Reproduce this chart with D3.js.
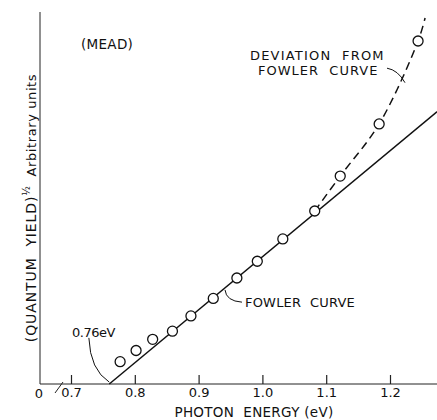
<!DOCTYPE html>
<html>
<head>
<meta charset="utf-8">
<script src="https://cdn.jsdelivr.net/npm/d3@7"></script>
<style>
  html, body { margin: 0; padding: 0; background: #fff; }
  svg text { font-family: "DejaVu Sans", sans-serif; fill: #111; white-space: pre; }
</style>
</head>
<body>
<svg id="chart" width="437" height="420"></svg>
<script>
// Photon energy (eV) of the measured points
const energy = [0.777, 0.802, 0.828, 0.859, 0.888, 0.923, 0.960, 0.992, 1.032, 1.082, 1.122, 1.183, 1.244];
// (quantum yield)^1/2 in arbitrary units
const sqrtYield = [0.60, 0.90, 1.20, 1.42, 1.83, 2.30, 2.85, 3.30, 3.90, 4.65, 5.59, 6.99, 9.22];

// Fowler straight line, threshold at 0.76 eV
const fowlerEnergy = [0.76, 1.274];
const fowlerYield = [0, 7.32];

// Dashed curve departing from the Fowler line at high energy
const deviationEnergy = [1.082, 1.122, 1.183, 1.244, 1.255];
const deviationYield = [4.65, 5.59, 6.99, 9.22, 9.84];

const xTickValues = [0.7, 0.8, 0.9, 1.0, 1.1, 1.2];
const xTickLabels = ["0.7", "0.8", "0.9", "1.0", "1.1", "1.2"];

const svg = d3.select("#chart");
const axisX0 = 40, baseY = 384, topY = 12, rightX = 437;
const FONT = "'DejaVu Sans', sans-serif";

const x = d3.scaleLinear().domain([0.7, 1.2]).range([71, 390]);
const y = d3.scaleLinear().domain([0, 10]).range([baseY, topY]);

// y axis line (no ticks)
svg.append("line")
  .attr("x1", axisX0).attr("x2", axisX0)
  .attr("y1", baseY).attr("y2", topY)
  .attr("stroke", "#222").attr("stroke-width", 1);

// x axis with inward ticks
const xAxis = d3.axisBottom(x)
  .tickValues(xTickValues)
  .tickFormat((d, i) => xTickLabels[i])
  .tickSize(-9)
  .tickPadding(4);

const gx = svg.append("g")
  .attr("transform", `translate(0,${baseY})`)
  .call(xAxis);
gx.select(".domain").remove();
gx.selectAll(".tick line").attr("stroke", "#222").attr("stroke-width", 1.2);
gx.selectAll(".tick text")
  .attr("font-size", 13)
  .attr("dy", "0.71em")
  .style("font-family", FONT)
  .attr("fill", "#111");

svg.append("line")
  .attr("x1", axisX0).attr("x2", rightX)
  .attr("y1", baseY).attr("y2", baseY)
  .attr("stroke", "#222").attr("stroke-width", 1);

// axis break mark and origin label
svg.append("line")
  .attr("x1", 55).attr("y1", 393).attr("x2", 63).attr("y2", 382)
  .attr("stroke", "#222").attr("stroke-width", 1);
svg.append("text")
  .attr("x", axisX0 - 1).attr("y", baseY + 14)
  .attr("text-anchor", "middle").attr("font-size", 13)
  .text("0");

// x axis title
svg.append("text")
  .attr("x", 254).attr("y", 417)
  .attr("text-anchor", "middle").attr("font-size", 13.5)
  .attr("letter-spacing", 0.3)
  .text("PHOTON  ENERGY (eV)");

// y axis title
const yt = svg.append("text")
  .attr("transform", `translate(36,208) rotate(-90)`)
  .attr("text-anchor", "middle").attr("font-size", 14);
yt.append("tspan").attr("letter-spacing", 0.9).text("(QUANTUM  YIELD)");
yt.append("tspan").attr("font-size", 10).attr("dy", -6).text("½");
yt.append("tspan").attr("dy", 6).attr("font-size", 13).attr("letter-spacing", 0.6).text("  Arbitrary units");

// Fowler line
svg.append("path")
  .datum(fowlerEnergy.map((e, i) => [e, fowlerYield[i]]))
  .attr("d", d3.line().x(d => x(d[0])).y(d => y(d[1])))
  .attr("fill", "none").attr("stroke", "#111").attr("stroke-width", 1.5);

// deviation curve (dashed)
svg.append("path")
  .datum(deviationEnergy.map((e, i) => [e, deviationYield[i]]))
  .attr("d", d3.line().curve(d3.curveCatmullRom).x(d => x(d[0])).y(d => y(d[1])))
  .attr("fill", "none").attr("stroke", "#111").attr("stroke-width", 1.5)
  .attr("stroke-dasharray", "8,5");

// measured points
svg.append("g").selectAll("circle")
  .data(energy.map((e, i) => [e, sqrtYield[i]]))
  .join("circle")
  .attr("cx", d => x(d[0])).attr("cy", d => y(d[1]))
  .attr("r", 5)
  .attr("fill", "#fff").attr("stroke", "#111").attr("stroke-width", 1.3);

// annotation leaders: [start, control, end] in data units
const leaders = [
  [[0.728, 1.24], [0.730, 0.38], [0.760, 0.05]],
  [[0.9414, 2.53], [0.943, 2.23], [0.968, 2.20]],
  [[1.1953, 8.49], [1.2125, 8.44], [1.2235, 8.10]]
];
leaders.forEach(l => {
  const p = d3.path();
  p.moveTo(x(l[0][0]), y(l[0][1]));
  p.quadraticCurveTo(x(l[1][0]), y(l[1][1]), x(l[2][0]), y(l[2][1]));
  svg.append("path").attr("d", p.toString())
    .attr("fill", "none").attr("stroke", "#111").attr("stroke-width", 1);
});

// annotation labels
const label = (tx, ty, txt, fs, ls) => svg.append("text")
  .attr("x", tx).attr("y", ty).attr("font-size", fs)
  .attr("letter-spacing", ls).text(txt);
label(81, 49, "(MEAD)", 13.5, 0.3);
label(72, 337, "0.76eV", 13, -0.5);
label(245, 307, "FOWLER  CURVE", 13, 0.2);
label(250, 60, "DEVIATION  FROM", 13, 1.2);
label(258, 75, "FOWLER  CURVE", 13, 1.0);
</script>
</body>
</html>
